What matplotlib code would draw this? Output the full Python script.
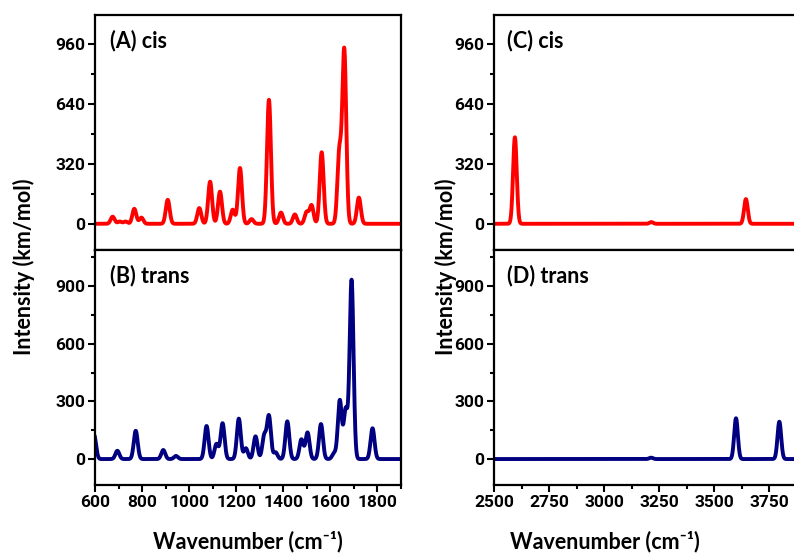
import numpy as np
import matplotlib
matplotlib.use("Agg")
import matplotlib.pyplot as plt
from matplotlib.ticker import MultipleLocator, AutoMinorLocator

# Computed IR bands: position (cm-1) and peak intensity (km/mol)
cis_low_pos = [675, 705, 730, 767, 797, 909, 1043, 1089, 1131, 1185, 1216, 1265,
               1339, 1390, 1449, 1499, 1520, 1563, 1638, 1659, 1721]
cis_low_int = [38, 12, 12, 80, 33, 128, 84, 225, 172, 75, 298, 25,
               662, 60, 50, 62, 98, 382, 380, 925, 140]

trans_low_pos = [596, 695, 773, 890, 944, 1074, 1116, 1142, 1211, 1241, 1282, 1319,
                 1339, 1367, 1417, 1477, 1503, 1560, 1616, 1640, 1665, 1690, 1779]
trans_low_int = [125, 43, 147, 47, 16, 172, 78, 186, 210, 56, 118, 120,
                 222, 35, 196, 102, 138, 182, 30, 305, 255, 930, 160]

cis_high_pos = [2595, 3215, 3645]
cis_high_int = [462, 9, 132]

trans_high_pos = [3214, 3600, 3797]
trans_high_int = [7, 212, 194]

SIGMA = 8.3  # gaussian broadening, cm-1


def broaden(grid, pos, inten, sigma=SIGMA):
    pos = np.asarray(pos, float)[:, None]
    inten = np.asarray(inten, float)[:, None]
    return (inten * np.exp(-0.5 * ((grid[None, :] - pos) / sigma) ** 2)).sum(axis=0)


TICK_FAMILY = ['Roboto', 'Liberation Sans', 'DejaVu Sans']
plt.rcParams['font.family'] = TICK_FAMILY
plt.rcParams['font.weight'] = 'bold'
plt.rcParams['font.size'] = 12.5

W, H = 794, 554
fig = plt.figure(figsize=(W / 100, H / 100), dpi=100)


def px_axes(x0, y0, x1, y1):
    # axes box given in pixel coords (top-left origin)
    return fig.add_axes([x0 / W, 1 - y1 / H, (x1 - x0) / W, (y1 - y0) / H])


label_font = dict(family=['Lato', 'DejaVu Sans'], weight='bold', size=15.5)

ax_a = px_axes(95, 15, 401, 250)
ax_b = px_axes(95, 250, 401, 485)
ax_c = px_axes(494, 15, 802, 250)
ax_d = px_axes(494, 250, 802, 485)

grid_low = np.arange(560, 1950, 0.5)
grid_high = np.arange(2450, 3950, 0.5)

panels = [
    (ax_a, grid_low, cis_low_pos, cis_low_int, 'red', '(A) cis', (600, 1900), (-140, 1115), 320, 0.05),
    (ax_b, grid_low, trans_low_pos, trans_low_int, '#000080', '(B) trans', (600, 1900), (-135, 1087), 300, 0.05),
    (ax_c, grid_high, cis_high_pos, cis_high_int, 'red', '(C) cis', (2500, 3900), (-140, 1115), 320, 0.042),
    (ax_d, grid_high, trans_high_pos, trans_high_int, '#000080', '(D) trans', (2500, 3900), (-135, 1087), 300, 0.042),
]

for ax, grid, pos, inten, color, tag, xlim, ylim, ystep, tx in panels:
    ax.plot(grid, broaden(grid, pos, inten), color=color, lw=2.8, solid_joinstyle='round')
    ax.set_xlim(*xlim)
    ax.set_ylim(*ylim)
    ax.yaxis.set_major_locator(MultipleLocator(ystep))
    ax.yaxis.set_minor_locator(AutoMinorLocator(2))
    ax.xaxis.set_minor_locator(AutoMinorLocator(2))
    for sp in ax.spines.values():
        sp.set_linewidth(1.6)
    ax.tick_params(which='both', direction='out', width=1.5, top=False, right=False)
    ax.tick_params(which='major', length=5, pad=2)
    ax.tick_params(which='minor', length=3)
    ax.text(tx, 0.89, tag, transform=ax.transAxes, ha='left', va='center', **label_font)

for ax in (ax_a, ax_c):
    ax.tick_params(axis='x', which='both', bottom=False, labelbottom=False)

ax_b.xaxis.set_major_locator(MultipleLocator(200))
ax_d.xaxis.set_major_locator(MultipleLocator(250))

for ax in (ax_a, ax_b, ax_c, ax_d):
    plt.setp(ax.get_yticklabels() + ax.get_xticklabels(),
             fontweight='bold', fontsize=12.5, family=TICK_FAMILY)

xlabel = 'Wavenumber (cm\u207b\u00b9)'
fig.text(248 / W, 1 - 542 / H, xlabel, ha='center', va='center', **label_font)
fig.text(605 / W, 1 - 542 / H, xlabel, ha='center', va='center', **label_font)
fig.text(24 / W, 1 - 267 / H, 'Intensity (km/mol)', rotation=90, ha='center', va='center', **label_font)
fig.text(446 / W, 1 - 267 / H, 'Intensity (km/mol)', rotation=90, ha='center', va='center', **label_font)

fig.savefig('out.png', dpi=100)
